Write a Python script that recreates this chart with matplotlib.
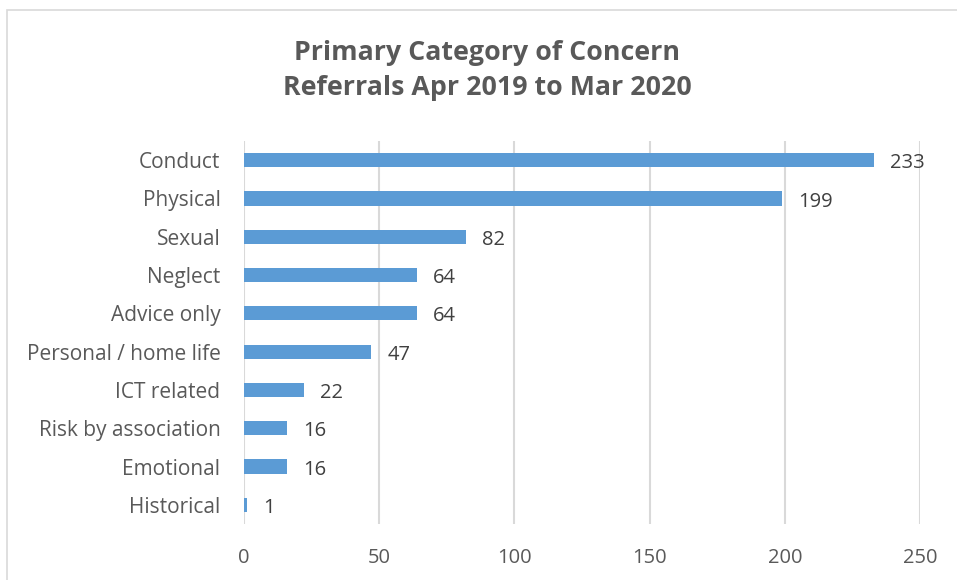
import matplotlib
matplotlib.use("Agg")
import matplotlib.pyplot as plt
from matplotlib.patches import Rectangle

categories = ["Conduct", "Physical", "Sexual", "Neglect", "Advice only",
              "Personal / home life", "ICT related", "Risk by association",
              "Emotional", "Historical"]
values = [233, 199, 82, 64, 64, 47, 22, 16, 16, 1]
xticks = [0, 50, 100, 150, 200, 250]
title = "Primary Category of Concern\nReferrals Apr 2019 to Mar 2020"

plt.rcParams['font.family'] = ['Open Sans', 'DejaVu Sans']

fig = plt.figure(figsize=(9.57, 5.8), dpi=100)
ax = fig.add_axes([0.255, 0.0966, 0.7063, 0.6603])

y = list(range(len(categories)))
ax.barh(y, values, height=0.37, color="#5B9BD5", zorder=3)
ax.set_ylim(len(categories) - 0.5, -0.5)
ax.set_xlim(0, 250)
ax.set_xticks(xticks)
ax.set_yticks(y)
ax.set_yticklabels(categories, fontsize=15)
ax.tick_params(axis='both', length=0, colors="#595959")
ax.tick_params(axis='x', pad=17, labelsize=14.5)
ax.tick_params(axis='y', pad=17)
ax.grid(axis='x', color="#D9D9D9", linewidth=1.5, zorder=0)
for s in ax.spines.values():
    s.set_visible(False)

for yi, v in zip(y, values):
    ax.text(v + 6, yi + 0.08, str(v), va='center', ha='left',
            fontsize=14.5, color="#404040")

fig.text(0.509, 0.878, title, ha='center', va='center', fontsize=19.3,
         fontweight='bold', color="#595959", linespacing=1.45)

fig.add_artist(Rectangle((7 / 957, -0.1), 1.2, 1 - 10 / 580 + 0.1,
                         transform=fig.transFigure, fill=False,
                         edgecolor="#D9D9D9", linewidth=1.2))

fig.savefig("out.png", dpi=100, facecolor="white")
